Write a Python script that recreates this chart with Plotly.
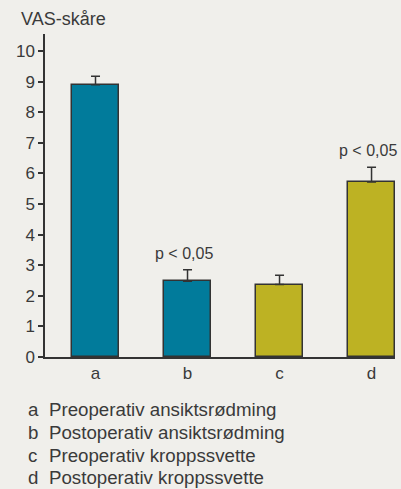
import plotly.graph_objects as go

categories = ["a", "b", "c", "d"]
values = [8.9, 2.48, 2.37, 5.72]
err_plus = [0.28, 0.37, 0.30, 0.48]
colors = ["#017b9b", "#017b9b", "#bdb223", "#bdb223"]
p_labels = ["", "p < 0,05", "", "p < 0,05"]
y_ticks = list(range(0, 11))
legend_keys = ["a", "b", "c", "d"]
legend_texts = [
    "Preoperativ ansiktsrødming",
    "Postoperativ ansiktsrødming",
    "Preoperativ kroppssvette",
    "Postoperativ kroppssvette",
]

W, H = 401, 489
ml, mr, mt, mb = 45, 6, 34, 132
pw = W - ml - mr
ph = H - mt - mb
FONT = "Liberation Sans"
TXT = "#3a3a3a"
BG = "#f0efeb"

xs = list(range(len(categories)))

fig = go.Figure()
fig.add_trace(go.Bar(
    x=xs, y=values, width=0.51,
    marker=dict(color=colors, line=dict(color="#333333", width=1.5)),
    error_y=dict(type="data", symmetric=False, array=err_plus,
                 arrayminus=[0] * len(values),
                 color="#333333", thickness=1.5, width=4.5),
    showlegend=False, hoverinfo="skip",
))

annotations = []
for i, (lab, v, e) in enumerate(zip(p_labels, values, err_plus)):
    if lab:
        annotations.append(dict(
            x=xs[i], y=v + e, yshift=6, xshift=-4, text=lab, showarrow=False,
            xref="x", yref="y", yanchor="bottom",
            font=dict(family=FONT, size=16, color=TXT)))

annotations.append(dict(
    x=(19 - ml) / pw, y=1 + (mt - 19) / ph,
    xref="paper", yref="paper", text="VAS-skåre", showarrow=False,
    xanchor="left", yanchor="middle",
    font=dict(family=FONT, size=18, color=TXT)))

for k, (key, line) in enumerate(zip(legend_keys, legend_texts)):
    ypix = 409 + 23 * k
    yp = (H - mb - ypix) / ph
    annotations.append(dict(
        x=(26 - ml) / pw, y=yp, xref="paper", yref="paper", text=key,
        showarrow=False, xanchor="left", yanchor="middle",
        font=dict(family=FONT, size=18.7, color=TXT)))
    annotations.append(dict(
        x=(47 - ml) / pw, y=yp, xref="paper", yref="paper", text=line,
        showarrow=False, xanchor="left", yanchor="middle",
        font=dict(family=FONT, size=18.7, color=TXT)))

fig.update_layout(
    width=W, height=H,
    margin=dict(l=ml, r=mr, t=mt, b=mb, pad=0),
    paper_bgcolor=BG, plot_bgcolor=BG,
    bargap=0,
    xaxis=dict(range=[-0.549, 3.255], tickvals=xs, ticktext=categories,
               showline=True, linecolor="#333333", linewidth=1.5,
               showgrid=False, zeroline=False, ticks="",
               tickfont=dict(family=FONT, size=17, color=TXT), fixedrange=True),
    yaxis=dict(range=[0, 10.56], tickvals=y_ticks,
               showline=True, linecolor="#333333", linewidth=1.5,
               showgrid=False, zeroline=False, ticks="outside", ticklen=5,
               tickcolor="#333333", tickwidth=1.5,
               tickfont=dict(family=FONT, size=17, color=TXT), fixedrange=True),
    annotations=annotations,
)

fig.write_html("out.html", config={"displayModeBar": False})

with open("out.html", "r", encoding="utf-8") as f:
    html = f.read()
html = html.replace("<head>", "<head><style>html,body{margin:0;padding:0;overflow:hidden;background:%s}</style>" % BG, 1)
with open("out.html", "w", encoding="utf-8") as f:
    f.write(html)
